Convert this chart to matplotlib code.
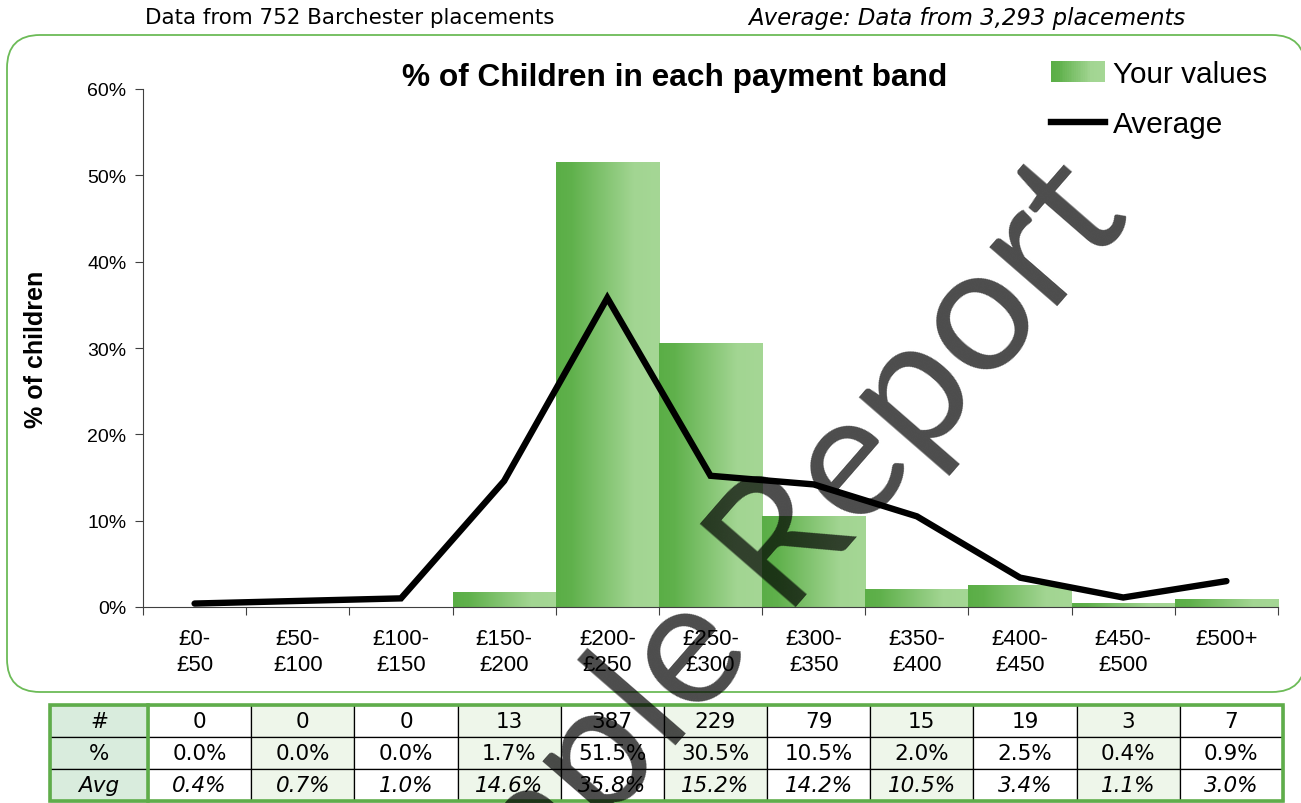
import numpy as np
import matplotlib
matplotlib.use("Agg")
import matplotlib.pyplot as plt
from matplotlib.colors import LinearSegmentedColormap
from matplotlib.patches import Rectangle, FancyBboxPatch
from matplotlib.legend_handler import HandlerBase
from matplotlib.lines import Line2D

# ---- data ----
bands = ["£0-\n£50", "£50-\n£100", "£100-\n£150", "£150-\n£200", "£200-\n£250",
         "£250-\n£300", "£300-\n£350", "£350-\n£400", "£400-\n£450",
         "£450-\n£500", "£500+"]
counts = [0, 0, 0, 13, 387, 229, 79, 15, 19, 3, 7]
pct = [0.0, 0.0, 0.0, 1.7, 51.5, 30.5, 10.5, 2.0, 2.5, 0.4, 0.9]
avg = [0.4, 0.7, 1.0, 14.6, 35.8, 15.2, 14.2, 10.5, 3.4, 1.1, 3.0]
yticks = [0, 10, 20, 30, 40, 50, 60]

W, H = 1301, 804
GREEN = "#5fad4a"
bar_cmap = LinearSegmentedColormap.from_list(
    "bar", [(0, "#5aae46"), (0.15, "#60b14c"), (0.75, "#a2d592"), (1, "#a5d795")])


class GradientHandler(HandlerBase):
    def create_artists(self, legend, orig_handle, xdescent, ydescent,
                       width, height, fontsize, trans):
        n = 30
        arts = []
        for k in range(n):
            arts.append(Rectangle((-xdescent + k * width / n, -ydescent),
                                  width / n * 1.05, height,
                                  facecolor=bar_cmap((k + 0.5) / n),
                                  edgecolor="none", transform=trans))
        return arts


fig = plt.figure(figsize=(W / 100, H / 100), dpi=100)

# header lines
fig.text(350 / W, 1 - 18 / H, "Data from 752 Barchester placements",
         ha="center", va="center", fontsize=15.4, family="DejaVu Sans")
fig.text(967 / W, 1 - 18 / H, "Average: Data from 3,293 placements",
         ha="center", va="center", fontsize=16.4, family="DejaVu Sans",
         style="italic")

# rounded frame around the chart
frame = FancyBboxPatch((0.07, 1.11), 12.98, 6.57,
                       boxstyle="round,pad=0,rounding_size=0.33",
                       transform=fig.dpi_scale_trans, facecolor="white",
                       edgecolor="#6cbb57", lw=1.3, zorder=-1)
fig.patches.append(frame)

# ---- chart ----
ax = fig.add_axes([143 / W, 1 - 608 / H, 1135 / W, 518 / H])
ax.set_facecolor("none")
x = np.arange(len(bands))
bars = ax.bar(x, pct, width=1.0, color="none", edgecolor="none", zorder=2)
grad = np.linspace(0, 1, 256).reshape(1, -1)
for rect in bars:
    h = rect.get_height()
    if h <= 0:
        continue
    x0 = rect.get_x()
    ax.imshow(grad, cmap=bar_cmap, aspect="auto", interpolation="bilinear",
              extent=(x0, x0 + rect.get_width(), 0, h), zorder=2)

ax.plot(x, avg, color="black", lw=4.6, solid_capstyle="round",
        solid_joinstyle="miter", zorder=3)

ax.set_xlim(-0.5, len(bands) - 0.5)
ax.set_ylim(0, 60)
ax.set_yticks(yticks)
ax.set_yticklabels([f"{v}%" for v in yticks], family="Liberation Sans",
                   fontsize=14)
ax.set_xticks(x)
ax.set_xticklabels(bands, family="Liberation Sans", fontsize=16,
                   linespacing=1.32)
ax.set_xticks(np.arange(len(bands) + 1) - 0.5, minor=True)
ax.tick_params(axis="x", which="major", length=0, pad=15)
ax.tick_params(axis="x", which="minor", length=6, width=0.8, color="#404040")
ax.tick_params(axis="y", length=6, width=0.8, color="#404040", pad=6)
for s in ("top", "right"):
    ax.spines[s].set_visible(False)
for s in ("left", "bottom"):
    ax.spines[s].set_color("#404040")
    ax.spines[s].set_linewidth(0.8)

ax.set_ylabel("% of children", family="Liberation Sans", fontsize=18,
              fontweight="bold")
ax.yaxis.set_label_coords(-0.084, 0.5)
ax.set_title("% of Children in each payment band", family="Liberation Sans",
             fontsize=22.8, fontweight="bold", x=0.468, y=1.008, pad=0)

handles = [Rectangle((0, 0), 1, 1), Line2D([], [], color="black", lw=4.6)]
ax.legend(handles, ["Your values", "Average"],
          handler_map={Rectangle: GradientHandler()},
          loc="upper left", bbox_to_anchor=(1051 / W, 1 - 61 / H),
          bbox_transform=fig.transFigure, frameon=False,
          prop={"family": "Liberation Sans", "size": 21.4},
          handlelength=1.8, handletextpad=0.27, labelspacing=0.75,
          borderaxespad=0, borderpad=0)

# ---- table ----
tab_ax = fig.add_axes([50 / W, 1 - 802 / H, 1233 / W, 96 / H])
tab_ax.axis("off")
rows = [["#"] + [str(c) for c in counts],
        ["%"] + [f"{v:.1f}%" for v in pct],
        ["Avg"] + [f"{v:.1f}%" for v in avg]]
col_w = [98] + [103.2] * len(bands)
tot = sum(col_w)
tbl = tab_ax.table(cellText=rows, colWidths=[w / tot for w in col_w],
                   bbox=[0, 0, 1, 1], cellLoc="center")
tbl.auto_set_font_size(False)
for (r, c), cell in tbl.get_celld().items():
    cell.set_edgecolor("black")
    cell.set_linewidth(0.9)
    if c == 0:
        cell.set_facecolor("#d9ecdd")
    elif c % 2 == 0:
        cell.set_facecolor("#eef6ea")
    else:
        cell.set_facecolor("white")
    t = cell.get_text()
    t.set_fontsize(15.5)
    t.set_family("DejaVu Sans")
    if r == 2:
        t.set_fontstyle("italic")
tab_ax.add_patch(Rectangle((0, 0), 1, 1, transform=tab_ax.transAxes,
                           fill=False, edgecolor=GREEN, lw=2.6,
                           clip_on=False, zorder=5))
tab_ax.plot([98 / tot, 98 / tot], [0, 1], color=GREEN, lw=2.6,
            transform=tab_ax.transAxes, clip_on=False, zorder=5)

# watermark
fig.text(760 / W, 1 - 648 / H, "Sample Report", rotation=49,
         rotation_mode="anchor", ha="center", va="baseline",
         fontsize=127, family="Lato", fontweight=400,
         color="black", alpha=0.7, zorder=10)

fig.savefig("out.png", dpi=100)
